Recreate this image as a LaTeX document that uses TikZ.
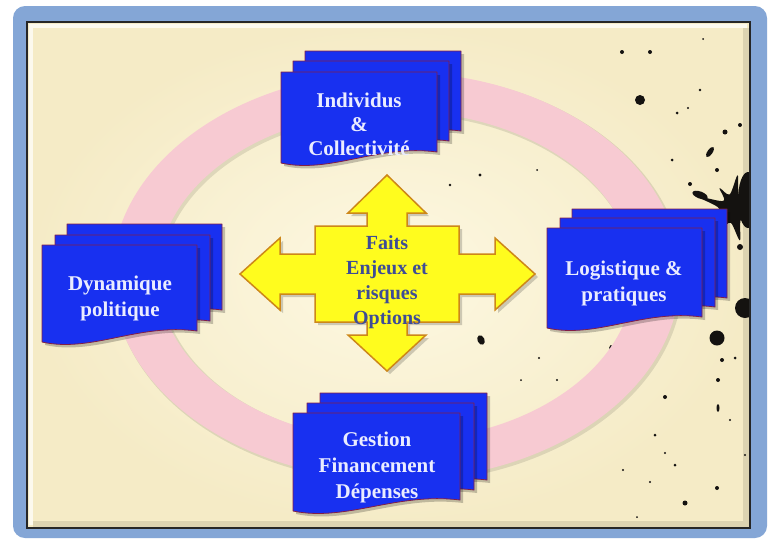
\documentclass[tikz,border=0pt]{standalone}
\usepackage{fontspec}
\setmainfont{Liberation Serif}
\usetikzlibrary{calc}
\definecolor{frameblue}{RGB}{132,166,214}
\definecolor{cream}{RGB}{245,235,198}
\definecolor{creamlight}{RGB}{253,248,226}
\definecolor{ringpink}{RGB}{247,202,210}
\definecolor{sheetblue}{RGB}{24,48,240}
\definecolor{sheetedge}{RGB}{130,30,70}
\definecolor{arrowyellow}{RGB}{255,252,30}
\definecolor{arrowedge}{RGB}{205,135,25}
\definecolor{arrowtext}{RGB}{62,76,150}
\definecolor{sheettext}{RGB}{234,236,255}
\definecolor{ink}{RGB}{20,18,16}
\tikzset{
  sheetfill/.style={fill=sheetblue, draw=sheetedge, line width=0.8pt, line join=round},
  sheetshadow/.style={fill=black, opacity=0.22},
  sheetlabel/.style={text=sheettext, font=\bfseries\fontsize{21}{26}\selectfont, align=center, inner sep=0pt},
  hublabel/.style={text=arrowtext, font=\bfseries\fontsize{20}{25}\selectfont, align=center, inner sep=0pt},
  inkdot/.style={fill=ink},
}
\newcommand\docsheet[5]{%
  \pgfmathsetmacro\xa{#2+#4}%
  \pgfmathsetmacro\yb{#3+#5}%
  \pgfmathsetmacro\yr{#3+#5-11}%
  \pgfmathsetmacro\cax{#2+0.62*#4}%
  \pgfmathsetmacro\cay{#3+#5-19}%
  \pgfmathsetmacro\cbx{#2+0.32*#4}%
  \pgfmathsetmacro\cby{#3+#5+11}%
  \path[#1] (#2,#3) -- (\xa,#3) -- (\xa,\yr) .. controls (\cax,\cay) and (\cbx,\cby) .. (#2,\yb) -- cycle;%
}
\newcommand\docstack[8]{% x1 y1 x2 y2 x3 y3 w h  (back to front)
  \docsheet{sheetshadow}{#1+3}{#2+3}{#7}{#8}\docsheet{sheetfill}{#1}{#2}{#7}{#8}%
  \docsheet{sheetshadow}{#3+3}{#4+3}{#7}{#8}\docsheet{sheetfill}{#3}{#4}{#7}{#8}%
  \docsheet{sheetshadow}{#5+3}{#6+3}{#7}{#8}\docsheet{sheetfill}{#5}{#6}{#7}{#8}%
}
\begin{document}
\begin{tikzpicture}[x=1pt,y=-1pt]
\useasboundingbox (0,0) rectangle (773,539);
\fill[white] (0,0) rectangle (773,539);
% outer blue frame
\fill[frameblue, rounded corners=12pt] (13,6) rectangle (767,538);
% inner panel
\shade[inner color=creamlight, outer color=cream] (27,22) rectangle (750,528);
\draw[white, opacity=0.7, line width=4pt] (31,525) -- (31,26) -- (747,26);
\draw[black, opacity=0.10, line width=6pt] (33,524) -- (746,524) -- (746,28);
% ink splatter
\begin{scope}
\clip (28,23) rectangle (749,527);
\fill[ink] (745,308) circle (10);
\fill[ink, shift={(733,208)}] plot[smooth cycle, tension=0.55] coordinates {
  (0:24) (18:15) (35:26) (55:14) (78:33) (98:15) (118:22) (138:12) (158:30)
  (178:14) (198:38) (216:12) (236:24) (256:14) (278:33) (298:13) (318:22) (340:15)};
\fill[ink] (748,200) ellipse [x radius=10, y radius=28];
\fill[ink, rotate around={-20:(700,195)}] (700,195) ellipse [x radius=8, y radius=3.5];
\fill[ink, rotate around={30:(708,228)}] (708,228) ellipse [x radius=7, y radius=3];
\fill[ink] (690,184) circle (2);
\fill[ink] (724,243) circle (2);
\fill[ink] (740,247) circle (3);
\end{scope}
\foreach \px/\py/\pr in {640/100/5, 717/338/7.5, 622/52/2, 650/52/2, 725/132/2.5, 717/170/2, 677/113/1.5,
  672/160/1.5, 703/39/1, 480/175/1.6, 450/185/1.3, 537/170/1, 665/397/2, 718/380/2, 722/360/2, 735/358/1.5,
  539/358/1.2, 557/380/1.2, 521/380/1, 685/503/2.5, 717/488/2, 655/435/1.5, 675/465/1.5, 650/482/1.2,
  623/470/1.2, 665/453/1.2, 637/517/1, 740/125/2, 700/90/1.3, 688/108/1.2, 730/420/1.2, 745/455/1.2}
  \fill[inkdot] (\px,\py) circle (\pr);
\fill[ink, rotate around={-35:(710,152)}] (710,152) ellipse [x radius=2.5, y radius=6];
\fill[ink, rotate around={25:(481,340)}] (481,340) ellipse [x radius=3.5, y radius=5];
\fill[ink, rotate around={30:(613,350)}] (613,350) ellipse [x radius=3, y radius=5.5];
\fill[ink] (718,408) ellipse [x radius=1.5, y radius=4];
% pink ring
\fill[black, opacity=0.10, even odd rule] (398,278) ellipse [x radius=285, y radius=205] (398,278) ellipse [x radius=237, y radius=164];
\fill[ringpink, even odd rule] (396,276) ellipse [x radius=284, y radius=204] (396,276) ellipse [x radius=238, y radius=165];
% central four-way arrow
\path[fill=black, opacity=0.18, shift={(3,3)}] (387,175) -- (426,213) -- (407,213) -- (407,226) -- (459,226) -- (459,254) -- (495,254) -- (495,238) -- (535,274) -- (495,310) -- (495,294) -- (459,294) -- (459,322) -- (407,322) -- (407,335) -- (426,335) -- (387,371) -- (348,335) -- (367,335) -- (367,322) -- (315,322) -- (315,294) -- (280,294) -- (280,310) -- (240,274) -- (280,238) -- (280,254) -- (315,254) -- (315,226) -- (367,226) -- (367,213) -- (348,213) -- cycle;
\path[fill=arrowyellow, draw=arrowedge, line width=1.5pt, line join=miter] (387,175) -- (426,213) -- (407,213) -- (407,226) -- (459,226) -- (459,254) -- (495,254) -- (495,238) -- (535,274) -- (495,310) -- (495,294) -- (459,294) -- (459,322) -- (407,322) -- (407,335) -- (426,335) -- (387,371) -- (348,335) -- (367,335) -- (367,322) -- (315,322) -- (315,294) -- (280,294) -- (280,310) -- (240,274) -- (280,238) -- (280,254) -- (315,254) -- (315,226) -- (367,226) -- (367,213) -- (348,213) -- cycle;
\node[hublabel] (hub) at (387,282) {Faits\\Enjeux et\\risques\\Options};
% document stacks
\docstack{305}{51}{293}{61}{281}{72}{156}{91}
\node[sheetlabel] (individus) at (359,124) {Individus\\[-2pt]\&\\[-2pt]Collectivité};
\docstack{67}{224}{55}{235}{42}{245}{155}{97}
\node[sheetlabel] (dynamique) at (120,298) {Dynamique\\politique};
\docstack{572}{209}{560}{218}{547}{228}{155}{100}
\node[sheetlabel] (logistique) at (624,283) {Logistique \&\\pratiques};
\docstack{320}{393}{307}{403}{293}{413}{167}{98}
\node[sheetlabel] (gestion) at (377,467) {Gestion\\Financement\\Dépenses};
% panel border
\draw[black!85, line width=2pt] (27,22) rectangle (750,528);
\end{tikzpicture}
\end{document}
